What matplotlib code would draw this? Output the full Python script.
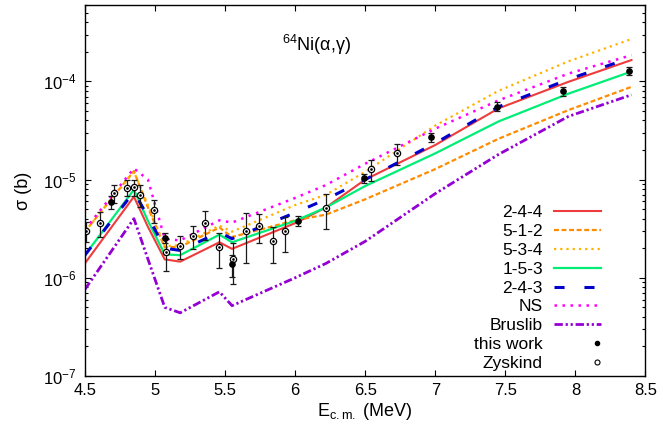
import numpy as np
import matplotlib
matplotlib.use("Agg")
import matplotlib.pyplot as plt
from matplotlib.legend_handler import HandlerLine2D
from matplotlib.lines import Line2D

plt.rcParams['font.family'] = ['Liberation Sans', 'DejaVu Sans']
plt.rcParams['mathtext.fontset'] = 'custom'
plt.rcParams['mathtext.rm'] = 'Liberation Sans'
plt.rcParams['mathtext.it'] = 'Liberation Sans:italic'

# model energies (MeV) and cross sections (b)
E_mod = [4.5, 4.85, 4.95, 5.07, 5.18, 5.46, 5.55, 6.0, 6.22, 6.5, 7.0, 7.45, 7.95, 8.4]
s_244 = [1.40e-6, 6.7e-6, 3.3e-6, 1.54e-6, 1.46e-6, 2.3e-6, 1.97e-6, 3.6e-6, 5.2e-6, 1.0e-5, 2.25e-5, 5.3e-5, 9.9e-5, 1.65e-4]
s_512 = [2.95e-6, 1.22e-5, 5.2e-6, 2.04e-6, 2.07e-6, 3.25e-6, 2.6e-6, 3.85e-6, 4.4e-6, 6.3e-6, 1.28e-5, 2.6e-5, 5.1e-5, 8.8e-5]
s_534 = [2.95e-6, 1.2e-5, 5.5e-6, 2.1e-6, 2.15e-6, 3.4e-6, 2.95e-6, 5.5e-6, 7.0e-6, 1.2e-5, 3.55e-5, 8.0e-5, 1.6e-4, 2.7e-4]
s_153 = [1.70e-6, 7.9e-6, 3.8e-6, 1.73e-6, 1.70e-6, 2.75e-6, 2.3e-6, 3.8e-6, 5.2e-6, 8.6e-6, 1.85e-5, 3.9e-5, 7.5e-5, 1.26e-4]
s_243 = [1.70e-6, 7.5e-6, 4.2e-6, 2.0e-6, 1.9e-6, 2.9e-6, 2.5e-6, 4.6e-6, 6.3e-6, 1.0e-5, 2.35e-5, 5.5e-5, 1.05e-4, 1.75e-4]
s_ns = [3.1e-6, 1.3e-5, 1.0e-5, 2.5e-6, 2.4e-6, 3.85e-6, 3.65e-6, 6.5e-6, 8.8e-6, 1.45e-5, 3.3e-5, 6.4e-5, 1.2e-4, 1.85e-4]
s_brus = [7.6e-7, 4.0e-6, 1.55e-6, 5.0e-7, 4.4e-7, 7.2e-7, 5.2e-7, 1.0e-6, 1.4e-6, 2.35e-6, 7.2e-6, 1.8e-5, 4.4e-5, 7.3e-5]

# this work
E_tw = [4.69, 5.07, 5.55, 6.02, 6.49, 6.97, 7.44, 7.91, 8.38]
s_tw = [5.9e-6, 2.55e-6, 1.37e-6, 3.78e-6, 1.03e-5, 2.7e-5, 5.55e-5, 7.9e-5, 1.29e-4]
ds_tw = [0.9e-6, 0.3e-6, 0.35e-6, 0.45e-6, 1.0e-6, 3.0e-6, 6.0e-6, 8.0e-6, 1.2e-5]

# Zyskind
E_zy = [4.51, 4.61, 4.71, 4.80, 4.85, 4.89, 4.99, 5.08, 5.18, 5.27, 5.36, 5.46,
        5.56, 5.65, 5.74, 5.84, 5.93, 6.22, 6.54, 6.73]
s_zy = [3.03e-6, 3.63e-6, 7.3e-6, 8.3e-6, 8.4e-6, 7.05e-6, 4.92e-6, 1.81e-6, 2.1e-6, 2.67e-6,
        3.63e-6, 2.05e-6, 1.56e-6, 3.0e-6, 3.36e-6, 2.35e-6, 3.0e-6, 5.15e-6, 1.27e-5, 1.85e-5]
ds_zy = [0.7e-6, 1.0e-6, 1.5e-6, 1.5e-6, 1.6e-6, 1.8e-6, 1.3e-6, 0.65e-6, 0.55e-6, 0.7e-6,
         1.2e-6, 0.8e-6, 0.7e-6, 1.6e-6, 1.1e-6, 0.95e-6, 1.15e-6, 2.0e-6, 3.0e-6, 4.5e-6]


class MarkerAtRight(HandlerLine2D):
    # put the legend point near the right end of the sample, like gnuplot
    def create_artists(self, legend, orig_handle, xdescent, ydescent, width, height, fontsize, trans):
        arts = super().create_artists(legend, orig_handle, xdescent, ydescent, width, height, fontsize, trans)
        for a in arts:
            x = a.get_xdata()
            if len(x) == 3:
                a.set_xdata([x[0], x[2] - 0.2 * fontsize, x[2]])
        return arts


fig = plt.figure(figsize=(6.63, 4.38), dpi=100)
ax = fig.add_axes([0.128, 0.1416, 0.8456, 0.847])

ax.plot(E_mod, s_244, color='#ee3b3b', lw=1.5, label='2-4-4')
ax.plot(E_mod, s_512, color='#ff8c00', lw=1.6, dashes=(2.2, 1.2), label='5-1-2')
ax.plot(E_mod, s_534, color='#ffb300', lw=1.6, dashes=(1, 1.8), label='5-3-4')
ax.plot(E_mod, s_153, color='#00ee76', lw=1.6, label='1-5-3')
ax.plot(E_mod, s_243, color='#0000cd', lw=2.2, dashes=(3.3, 6.5), label='2-4-3')
ax.plot(E_mod, s_ns, color='#ff00ff', lw=1.8, dashes=(1, 2.2), label='NS')
ax.plot(E_mod, s_brus, color='#9400d3', lw=2.0, dashes=(3, 1, 0.8, 1, 0.8, 1), label='Bruslib')

ax.errorbar(E_tw, s_tw, yerr=ds_tw, fmt='none', ecolor='0.1', elinewidth=0.9, capsize=2.5, capthick=0.9)
ax.errorbar(E_zy, s_zy, yerr=ds_zy, fmt='none', ecolor='0.1', elinewidth=0.9, capsize=2.5, capthick=0.9)
ax.plot(E_zy, s_zy, ls='none', marker='o', ms=4.5, mfc='white', mec='black', mew=0.9)
ax.plot(E_zy, s_zy, ls='none', marker='o', ms=0.9, color='black')
ax.plot(E_tw, s_tw, ls='none', marker='o', ms=3.8, color='black')

ax.set_yscale('log')
ax.set_xlim(4.5, 8.5)
ax.set_ylim(1e-7, 6e-4)
ax.set_xticks([4.5, 5, 5.5, 6, 6.5, 7, 7.5, 8, 8.5])
ax.set_xticklabels(['4.5', '5', '5.5', '6', '6.5', '7', '7.5', '8', '8.5'])
ax.tick_params(which='both', direction='in', top=True, right=True, labelsize=12, width=0.8)
ax.tick_params(which='major', length=4.5)
ax.tick_params(which='minor', length=2.3)
ax.tick_params(axis='x', pad=5)
ax.tick_params(axis='y', pad=6)
for sp in ax.spines.values():
    sp.set_linewidth(1.0)

ax.set_xlabel(r'E$_{\mathrm{c.m.}}$ (MeV)', fontsize=13, labelpad=2)
ax.set_ylabel('σ (b)', fontsize=13, labelpad=8)
ax.text(0.414, 0.892, r'$^{64}$Ni(α,γ)', transform=ax.transAxes, ha='center', va='center', fontsize=13)

handles, labels = ax.get_legend_handles_labels()
h_tw = Line2D([], [], ls='none', marker='o', ms=3.0, color='black')
h_zy = Line2D([], [], ls='none', marker='o', ms=3.6, mfc='white', mec='black', mew=0.8)
handles += [h_tw, h_zy]
labels += ['this work', 'Zyskind']
ax.legend(handles, labels, loc='lower right', bbox_to_anchor=(0.92, 0.014), frameon=False,
          markerfirst=False, fontsize=12.5, handlelength=2.7, handletextpad=0.63,
          labelspacing=0.21, borderpad=0, borderaxespad=0,
          handler_map={h_tw: MarkerAtRight(), h_zy: MarkerAtRight()})

fig.savefig('out.png', dpi=100)
